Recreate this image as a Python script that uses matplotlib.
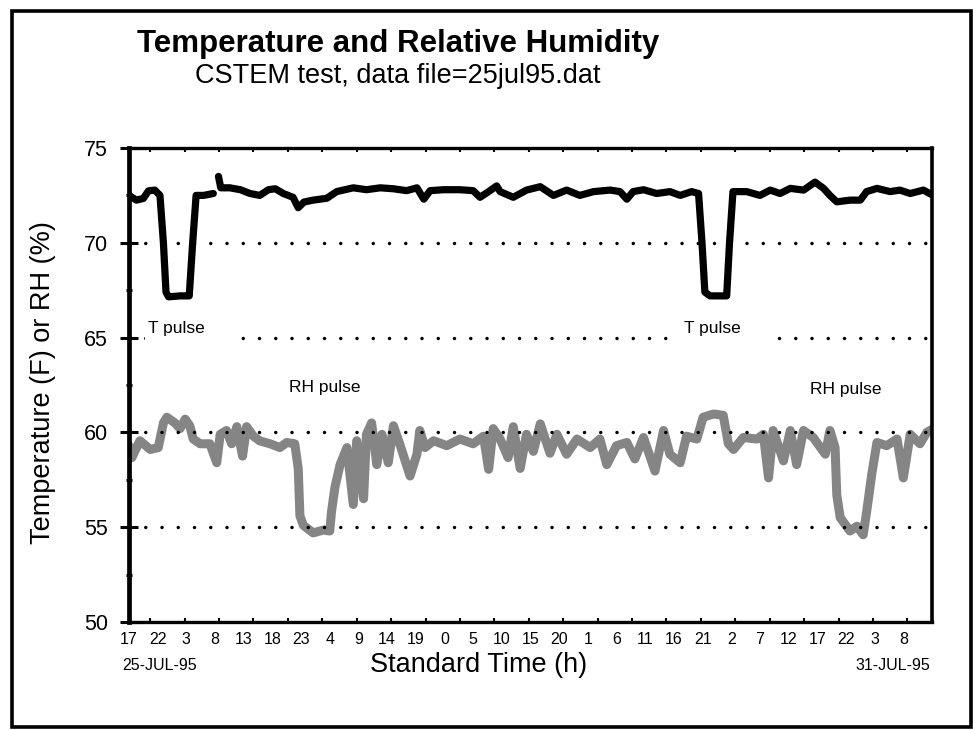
import numpy as np
import matplotlib
matplotlib.use("Agg")
import matplotlib.pyplot as plt
from matplotlib.patches import Rectangle

plt.rcParams["font.family"] = ["Liberation Sans", "DejaVu Sans"]

# x = hours since 25-JUL-95 17:00 (standard time)
temp_hours = [0.0, 1.3, 2.5, 3.4, 4.5, 5.4, 6.0, 6.45, 6.9, 8.9, 10.5, 11.1, 11.7,
              13.0, 14.7, 15.1,
              15.6, 16.0, 17.6, 19.4, 21.1, 22.8, 24.3, 25.5, 26.9, 28.6, 29.5,
              30.5, 32.1, 34.5, 36.2, 39.1, 41.4, 43.8, 46.1, 48.4, 50.2, 51.4,
              52.5, 54.8, 57.7, 60.0, 61.2, 62.7, 64.1, 64.7, 67.0, 69.3, 71.7,
              74.0, 76.3, 78.6, 81.0, 83.9, 85.6, 86.8, 87.9, 89.7, 92.0, 94.3,
              96.1, 98.1, 99.3, 99.9, 100.4, 101.3, 104.2, 104.7, 105.3, 107.7,
              110.0, 111.8, 113.5, 115.3, 117.6, 119.6, 121.1, 122.2, 123.4,
              125.7, 127.5, 128.6, 130.4, 132.7, 134.4, 136.2, 138.5, 140.2]
temp_values = [72.5, 72.25, 72.34, 72.74, 72.78, 72.5, 70.0, 67.4, 67.15, 67.2,
               67.2, 70.0, 72.5, 72.5, 72.6, np.nan,
               73.5, 72.9, 72.9, 72.8, 72.6, 72.5, 72.8, 72.85, 72.6, 72.4,
               71.85, 72.15, 72.25, 72.35, 72.7, 72.9, 72.8, 72.9, 72.85, 72.75,
               72.9, 72.3, 72.75, 72.8, 72.8, 72.75, 72.4, 72.7, 73.0, 72.7,
               72.4, 72.78, 72.96, 72.5, 72.78, 72.5, 72.7, 72.78, 72.7, 72.3,
               72.7, 72.8, 72.6, 72.7, 72.5, 72.7, 72.6, 70.0, 67.4, 67.2, 67.2,
               70.0, 72.7, 72.7, 72.5, 72.78, 72.6, 72.87, 72.78, 73.2, 72.87,
               72.5, 72.16, 72.25, 72.25, 72.7, 72.87, 72.7, 72.78, 72.6, 72.78,
               72.5]

rh_hours = [0.0, 0.5, 1.9, 3.7, 5.1, 6.0, 6.6, 8.0, 8.9, 9.8, 10.6, 11.2, 12.4,
            14.1, 15.3, 15.9, 17.0, 17.9, 18.8, 19.8, 20.5, 21.7, 22.8, 24.6,
            26.3, 27.5, 28.9, 29.5, 29.8, 30.4, 32.1, 33.9, 35.0, 35.3, 35.9,
            36.8, 38.0, 39.1, 39.7, 40.9, 41.4, 42.3, 43.2, 44.1, 45.2, 46.1,
            47.3, 49.0, 50.2, 50.7, 51.6, 53.1, 55.4, 57.7, 60.0, 61.8, 62.7,
            63.5, 64.7, 66.1, 67.0, 68.2, 69.3, 70.5, 71.7, 73.4, 74.6, 76.3,
            78.1, 80.4, 82.1, 83.3, 85.0, 86.8, 88.2, 89.7, 91.7, 93.2, 94.3,
            96.1, 97.2, 99.0, 100.1, 101.9, 103.6, 104.5, 105.4, 107.1, 109.5,
            110.6, 111.5, 112.3, 114.1, 115.3, 116.4, 117.6, 119.3, 121.4,
            122.2, 123.1, 123.4, 124.0, 125.7, 126.9, 128.0, 128.6, 129.5,
            130.4, 132.1, 133.9, 135.0, 136.2, 137.9, 139.1, 140.2]
rh_values = [59.3, 58.67, 59.56, 59.1, 59.2, 60.5, 60.8, 60.5, 60.2, 60.7,
             60.35, 59.65, 59.4, 59.4, 58.4, 59.9, 60.1, 59.4, 60.3, 58.75,
             60.3, 59.8, 59.55, 59.4, 59.2, 59.47, 59.4, 58.1, 55.6, 55.1,
             54.7, 54.85, 54.8, 55.8, 57.1, 58.3, 59.2, 56.2, 59.56, 56.5,
             59.9, 60.5, 58.3, 59.9, 58.4, 60.35, 59.3, 57.7, 58.85, 60.1,
             59.2, 59.56, 59.3, 59.65, 59.4, 59.8, 58.05, 60.2, 59.65, 58.67,
             60.3, 58.1, 59.9, 59.0, 60.45, 58.9, 59.9, 58.85, 59.65, 59.2,
             59.65, 58.3, 59.3, 59.47, 58.6, 59.73, 57.96, 60.1, 58.85, 58.4,
             59.8, 59.65, 60.8, 60.97, 60.9, 59.4, 59.1, 59.73, 59.65, 59.9,
             57.6, 60.1, 58.5, 60.1, 58.3, 60.1, 59.73, 58.85, 60.1, 59.2,
             56.7, 55.5, 54.8, 55.05, 54.6, 55.8, 57.8, 59.47, 59.3, 59.65,
             57.6, 59.9, 59.4, 60.0, 60.2]

xtick_hours = list(range(0, 140, 5))
xtick_labels = ["17", "22", "3", "8", "13", "18", "23", "4", "9", "14", "19",
                "0", "5", "10", "15", "20", "1", "6", "11", "16", "21", "2",
                "7", "12", "17", "22", "3", "8"]
yticks = [50, 55, 60, 65, 70, 75]
grid_levels = [55, 60, 65, 70]

# annotations: (text, left x in hours, y)
pulse_labels = [("T pulse", 3.3, 65.5), ("T pulse", 96.8, 65.5),
                ("RH pulse", 27.9, 62.35), ("RH pulse", 118.7, 62.25)]
# white boxes behind the T pulse labels (hide the 65 dotted line)
label_boxes = [(2.8, 19.4), (96.1, 112.1)]

narrow = ["Liberation Sans Narrow", "Liberation Sans", "DejaVu Sans"]

fig = plt.figure(figsize=(9.73, 7.30), dpi=100)
ax = fig.add_axes([129 / 973, 1 - 622 / 730, (932 - 129) / 973, (622 - 148) / 730])

ax.plot(rh_hours, rh_values, color="#858585", lw=6.5, solid_joinstyle="round",
        solid_capstyle="round", zorder=2)
for lvl in grid_levels:
    ax.axhline(lvl, color="black", lw=2.5, ls=(0, (0.01, 4.67)),
               dash_capstyle="round", zorder=3)
ax.plot(temp_hours, temp_values, color="black", lw=5.2, solid_joinstyle="round",
        solid_capstyle="round", zorder=4)

for x0, x1 in label_boxes:
    ax.add_patch(Rectangle((x0, 64.6), x1 - x0, 1.7, facecolor="white",
                           edgecolor="none", zorder=5))
for txt, x, y in pulse_labels:
    ax.text(x, y, txt, fontsize=12.5, ha="left", va="center", zorder=6)

ax.set_xlim(0, 140)
ax.set_ylim(50, 75)

ax.set_yticks(yticks)
ax.set_yticks([52.5, 57.5, 62.5, 67.5, 72.5], minor=True)
ax.tick_params(axis="y", which="major", direction="inout", length=13, width=2.2,
               labelsize=15.5, pad=8.5)
ax.tick_params(axis="y", which="minor", direction="inout", length=4.5, width=2.2)

ax.set_xticks(xtick_hours)
ax.set_xticklabels(xtick_labels, family=narrow)
ax.set_xticks(np.arange(3.7, 140, 6.0), minor=True)
ax.tick_params(axis="x", which="major", length=0, labelsize=11.5, pad=7)
ax.tick_params(axis="x", which="minor", direction="in", length=3, width=1.5,
               top=True)

for side, lw in [("left", 3.4), ("bottom", 2.4), ("top", 2.4), ("right", 2.6)]:
    ax.spines[side].set_linewidth(lw)

fig.text(398 / 973, 1 - 52 / 730, "Temperature and Relative Humidity",
         fontsize=22.5, fontweight="bold", ha="center", va="baseline")
fig.text(398 / 973, 1 - 83 / 730, "CSTEM test, data file=25jul95.dat",
         fontsize=19.5, ha="center", va="baseline")
fig.text(479 / 973, 1 - 672 / 730, "Standard Time (h)", fontsize=19.5,
         ha="center", va="baseline")
fig.text(43 / 973, 1 - 383 / 730, "Temperature (F) or RH (%)", fontsize=19.5,
         rotation=90, ha="center", va="center")
fig.text(122 / 973, 1 - 665 / 730, "25-JUL-95", fontsize=11.5, family=narrow,
         ha="left", va="center")
fig.text(930 / 973, 1 - 665 / 730, "31-JUL-95", fontsize=11.5, family=narrow,
         ha="right", va="center")

# frame around the whole page
fig.add_artist(Rectangle((12 / 973, 1 - 727 / 730), (970.5 - 12) / 973,
                         (727 - 11) / 730, transform=fig.transFigure,
                         fill=False, edgecolor="black", lw=2.6))

fig.savefig("out.png", dpi=100)
